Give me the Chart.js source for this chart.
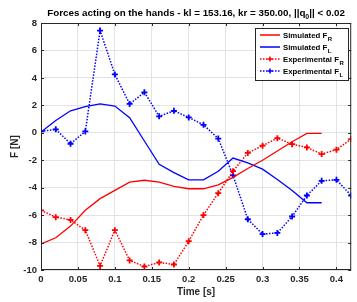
<!DOCTYPE html>
<html>
<head>
<meta charset="utf-8">
<script src="https://cdn.jsdelivr.net/npm/chart.js@4"></script>
<style>
  html, body { margin: 0; padding: 0; background: #fff; }
  #wrap { width: 357px; height: 302px; }
</style>
</head>
<body>
<div id="wrap"><canvas id="forces-chart"></canvas></div>
<script>
// time samples
const expTimes = [0, 0.02, 0.04, 0.06, 0.08, 0.1, 0.12, 0.14, 0.16, 0.18, 0.2,
  0.22, 0.24, 0.26, 0.28, 0.3, 0.32, 0.34, 0.36, 0.38, 0.4, 0.42];
const simTimes = [0, 0.02, 0.04, 0.06, 0.08, 0.1, 0.12, 0.14, 0.16, 0.18, 0.2,
  0.22, 0.24, 0.26, 0.28, 0.3, 0.32, 0.34, 0.36, 0.38];

// forces
const simFR = [-8.1, -7.65, -6.8, -5.65, -4.8, -4.2, -3.6, -3.46, -3.6, -3.9, -4.08,
  -4.08, -3.8, -3.25, -2.6, -2.0, -1.33, -0.65, -0.05, -0.05];
const simFL = [0.05, 0.9, 1.6, 1.9, 2.1, 1.95, 1.1, -0.6, -2.3, -2.9, -3.43,
  -3.43, -2.8, -1.84, -2.2, -2.65, -3.4, -4.2, -5.1, -5.1];
const expFR = [-5.65, -6.15, -6.35, -7.1, -9.7, -7.1, -9.3, -9.75, -9.45, -9.6, -7.9,
  -6.0, -4.4, -2.8, -1.47, -0.94, -0.39, -0.83, -1.07, -1.55, -1.23, -0.46];
const expFL = [0.1, 0.25, -0.8, 0.1, 7.45, 4.25, 2.1, 2.95, 1.2, 1.6, 1.12,
  0.58, -0.42, -3.1, -6.3, -7.38, -7.3, -6.1, -4.57, -3.5, -3.43, -4.57];

const xTicks = [0, 0.05, 0.1, 0.15, 0.2, 0.25, 0.3, 0.35, 0.4];
const yTicks = [-10, -8, -6, -4, -2, 0, 2, 4, 6, 8];

const legendItems = [
  { name: "Simulated F", sub: "R", color: "#ff0000", dotted: false },
  { name: "Simulated F", sub: "L", color: "#0000ff", dotted: false },
  { name: "Experimental F", sub: "R", color: "#ff0000", dotted: true },
  { name: "Experimental F", sub: "L", color: "#0000ff", dotted: true },
];

const pts = (ts, vs) => ts.map((t, i) => ({ x: t, y: vs[i] }));
const axisColor = "#262626";
const fontFam = "'Liberation Sans', Arial, sans-serif";

// title, box, inward ticks and legend in MATLAB style
const matlabBits = {
  id: "matlabBits",
  afterDraw(chart) {
    const ctx = chart.ctx;
    const a = chart.chartArea;
    const xs = chart.scales.x, ys = chart.scales.y;
    ctx.save();

    // box
    ctx.strokeStyle = axisColor;
    ctx.lineWidth = 1;
    ctx.strokeRect(a.left + 0.5, a.top + 0.5, a.right - a.left - 1, a.bottom - a.top - 1);

    // inward ticks
    ctx.beginPath();
    xTicks.forEach((v) => {
      const px = Math.round(xs.getPixelForValue(v)) + 0.5;
      ctx.moveTo(px, a.bottom); ctx.lineTo(px, a.bottom - 3);
      ctx.moveTo(px, a.top); ctx.lineTo(px, a.top + 3);
    });
    yTicks.forEach((v) => {
      const py = Math.round(ys.getPixelForValue(v)) + 0.5;
      ctx.moveTo(a.left, py); ctx.lineTo(a.left + 3, py);
      ctx.moveTo(a.right, py); ctx.lineTo(a.right - 3, py);
    });
    ctx.stroke();

    // title with subscript
    const parts = [
      ["Forces acting on the hands - kl = 153.16, kr = 350.00, ||q", false],
      ["0", true],
      ["|| < 0.02", false],
    ];
    const big = "bold 9.8px " + fontFam, small = "bold 7px " + fontFam;
    let w = 0;
    parts.forEach(([s, sub]) => { ctx.font = sub ? small : big; w += ctx.measureText(s).width; });
    let tx = (a.left + a.right) / 2 - w / 2;
    ctx.fillStyle = "#000";
    ctx.textBaseline = "alphabetic";
    ctx.textAlign = "left";
    parts.forEach(([s, sub]) => {
      ctx.font = sub ? small : big;
      ctx.fillText(s, tx, sub ? 19 : 16);
      tx += ctx.measureText(s).width;
    });

    // legend
    const lx = 255, ly = 28, lw = 94, lh = 53;
    ctx.fillStyle = "#fff";
    ctx.fillRect(lx, ly, lw, lh);
    ctx.strokeStyle = axisColor;
    ctx.strokeRect(lx + 0.5, ly + 0.5, lw - 1, lh - 1);
    legendItems.forEach((it, i) => {
      const y = ly + 7 + i * 12;
      ctx.strokeStyle = it.color;
      ctx.lineWidth = 1.5;
      ctx.setLineDash(it.dotted ? [1.5, 1.5] : []);
      ctx.beginPath();
      ctx.moveTo(lx + 5, y); ctx.lineTo(lx + 25, y);
      ctx.stroke();
      ctx.setLineDash([]);
      if (it.dotted) {
        ctx.beginPath();
        ctx.moveTo(lx + 12.5, y); ctx.lineTo(lx + 17.5, y);
        ctx.moveTo(lx + 15, y - 2.5); ctx.lineTo(lx + 15, y + 2.5);
        ctx.stroke();
      }
      ctx.fillStyle = "#000";
      ctx.font = "bold 7.8px " + fontFam;
      ctx.fillText(it.name, lx + 28, y + 3);
      const nw = ctx.measureText(it.name).width;
      ctx.font = "bold 6px " + fontFam;
      ctx.fillText(it.sub, lx + 28 + nw + 0.5, y + 6);
    });
    ctx.restore();
  },
};

new Chart(document.getElementById("forces-chart"), {
  type: "line",
  data: {
    datasets: [
      {
        label: "Simulated F_R",
        data: pts(simTimes, simFR),
        borderColor: "#ff0000",
        borderWidth: 1.3,
        pointRadius: 0,
        tension: 0,
      },
      {
        label: "Simulated F_L",
        data: pts(simTimes, simFL),
        borderColor: "#0000ff",
        borderWidth: 1.3,
        pointRadius: 0,
        tension: 0,
      },
      {
        label: "Experimental F_R",
        data: pts(expTimes, expFR),
        borderColor: "#ff0000",
        borderWidth: 1.5,
        borderDash: [1.5, 1.5],
        pointStyle: "cross",
        pointRadius: 3,
        pointBorderWidth: 1.8,
        pointBorderColor: "#ff0000",
        tension: 0,
      },
      {
        label: "Experimental F_L",
        data: pts(expTimes, expFL),
        borderColor: "#0000ff",
        borderWidth: 1.5,
        borderDash: [1.5, 1.5],
        pointStyle: "cross",
        pointRadius: 3,
        pointBorderWidth: 1.8,
        pointBorderColor: "#0000ff",
        tension: 0,
      },
    ],
  },
  options: {
    responsive: true,
    maintainAspectRatio: false,
    animation: false,
    layout: { padding: { top: 23, right: 2, left: 0, bottom: 0 } },
    plugins: {
      legend: { display: false },
      title: { display: false },
      tooltip: { enabled: false },
    },
    scales: {
      x: {
        type: "linear",
        min: 0,
        max: 0.42,
        afterBuildTicks: (s) => { s.ticks = xTicks.map((v) => ({ value: v })); },
        afterFit: (s) => { s.height = 32; },
        grid: { color: "#e3e3e3", drawTicks: false },
        border: { display: false },
        ticks: {
          padding: 4,
          maxRotation: 0,
          color: axisColor,
          font: { family: fontFam, size: 9.5, weight: "bold" },
          callback: (v) => String(Math.round(v * 100) / 100),
        },
        title: {
          display: true,
          text: "Time [s]",
          color: axisColor,
          font: { family: fontFam, size: 10, weight: "bold" },
          padding: { top: 0, bottom: 4 },
        },
      },
      y: {
        min: -10,
        max: 8,
        afterBuildTicks: (s) => { s.ticks = yTicks.map((v) => ({ value: v })); },
        afterFit: (s) => { s.width = 41; },
        grid: { color: "#e3e3e3", drawTicks: false },
        border: { display: false },
        ticks: {
          padding: 4,
          color: axisColor,
          font: { family: fontFam, size: 9.5, weight: "bold" },
        },
        title: {
          display: true,
          text: "F [N]",
          color: axisColor,
          font: { family: fontFam, size: 10, weight: "bold" },
          padding: { top: 9, bottom: 0 },
        },
      },
    },
  },
  plugins: [matlabBits],
});
</script>
</body>
</html>
